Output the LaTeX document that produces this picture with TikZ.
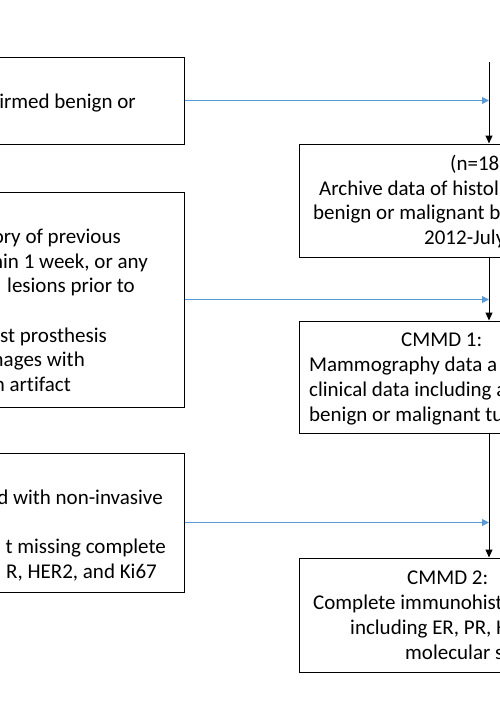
\documentclass[tikz,border=0pt]{standalone}
\usepackage{fontspec}
\setmainfont{Carlito}[Ligatures=NoCommon]
\usetikzlibrary{arrows.meta}
\definecolor{flowblue}{RGB}{91,155,213}
\begin{document}
\begin{tikzpicture}[x=1pt,y=-1pt,
		box/.style={draw=black, line width=1pt, inner sep=0pt},
		txt/.style={inner sep=0pt, font=\fontsize{21}{25}\selectfont},
		mainarrow/.style={draw=black, line width=1pt, -{Triangle[length=8pt,width=7pt]}},
		sidearrow/.style={draw=flowblue, line width=1pt, -{Triangle[length=7pt,width=7pt]}}]
			\useasboundingbox (0,0) rectangle (500,720);
			\clip (0,0) rectangle (500,720);
			% exclusion boxes (left)
			\node[box, minimum width=384pt, minimum height=87pt] (exclone) at (-8,100.5) {};
			\node[box, minimum width=384pt, minimum height=215pt] (excltwo) at (-8,299.5) {};
			\node[box, minimum width=384pt, minimum height=139pt] (exclthree) at (-8,522.5) {};
			% data boxes (right)
			\node[box, minimum width=380pt, minimum height=113pt] (archive) at (489,200.5) {};
			\node[box, minimum width=380pt, minimum height=112pt] (cmmdone) at (489,377) {};
			\node[box, minimum width=380pt, minimum height=114pt] (cmmdtwo) at (489,615) {};
			\coordinate (spinetop) at (489,62);
			% left texts
			\node[txt, anchor=base east] (exclonea) at (136,108) {irmed benign or};
			\node[txt, anchor=base east] (excltwoa) at (121,243) {ory of previous};
			\node[txt, anchor=base east] (excltwob) at (148,268) {hin 1 week, or any};
			\node[txt, anchor=base east] (excltwoc) at (135,292.5) {lesions prior to};
			\node[txt, anchor=base east] (excltwod) at (107,342) {st prosthesis};
			\node[txt, anchor=base east] (excltwoe) at (85,366.5) {mages with};
			\node[txt, anchor=base east] (excltwof) at (71,391.5) {n artifact};
			\node[txt, anchor=base east] (exclthreea) at (163,504.5) {d with non-invasive};
			\node[txt, anchor=base east] (exclthreeb) at (166,553.5) {t missing complete};
			\node[txt, anchor=base east] (exclthreec) at (157,578) {R, HER2, and Ki67};
			% right texts
			\node[txt, anchor=base west] (archivea) at (450,170) {(n=18};
			\node[txt, anchor=base west] (archiveb) at (319,195) {Archive data of histol};
			\node[txt, anchor=base west] (archivec) at (313,219.5) {benign or malignant b};
			\node[txt, anchor=base west] (archived) at (424,244) {2012-July};
			\node[txt, anchor=base west] (cmmdonea) at (401,346) {CMMD 1:};
			\node[txt, anchor=base west] (cmmdoneb) at (309,371) {Mammography data a};
			\node[txt, anchor=base west] (cmmdonec) at (309,396) {clinical data including a};
			\node[txt, anchor=base west] (cmmdoned) at (309,421) {benign or malignant tu};
			\node[txt, anchor=base west] (cmmdtwoa) at (407,584) {CMMD 2:};
			\node[txt, anchor=base west] (cmmdtwob) at (313,609) {Complete immunohist};
			\node[txt, anchor=base west] (cmmdtwoc) at (350,634) {including ER, PR, H};
			\node[txt, anchor=base west] (cmmdtwod) at (405,659) {molecular s};
			% connectors
			\draw[mainarrow] (spinetop) -- (archive.north);
			\draw[mainarrow] (archive.south) -- (cmmdone.north);
			\draw[mainarrow] (cmmdone.south) -- (cmmdtwo.north);
			\draw[sidearrow] (exclone.east) -- (exclone.east -| archive.north);
			\draw[sidearrow] (excltwo.east) -- (excltwo.east -| archive.north);
			\draw[sidearrow] (exclthree.east) -- (exclthree.east -| archive.north);
		\end{tikzpicture}
\end{document}
